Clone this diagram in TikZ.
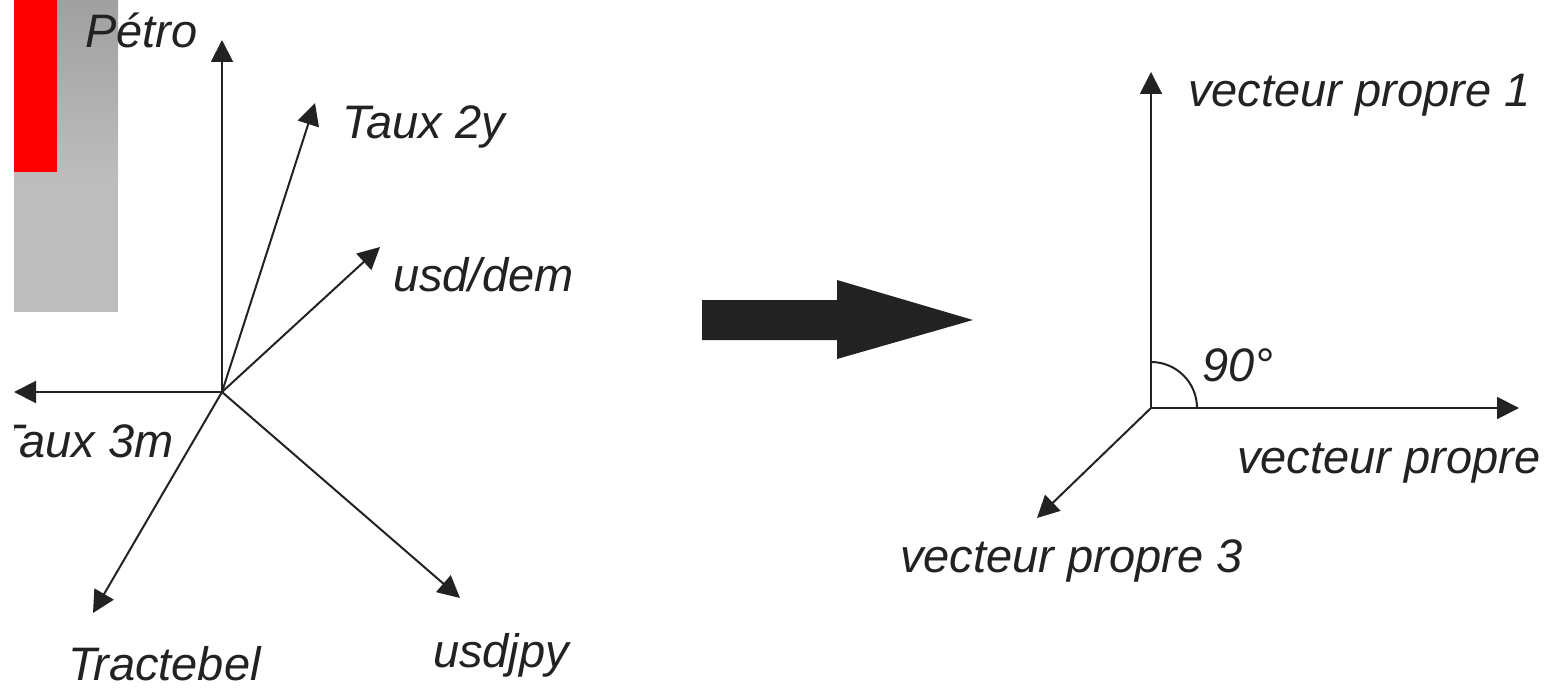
\documentclass[tikz,border=0pt]{standalone}
\usepackage{fontspec}
\setmainfont{Liberation Sans}
\usetikzlibrary{arrows.meta}
\definecolor{ink}{HTML}{222222}
\definecolor{gdark}{HTML}{A0A0A0}
\definecolor{glight}{HTML}{BDBDBD}
\tikzset{
  axis/.style={draw=ink, line width=2pt, -{Triangle[length=22pt,width=22pt]}},
  lbl/.style={inner sep=0pt, anchor=base west, text=ink, font=\fontsize{47}{56}\selectfont\itshape},
}
\begin{document}
\begin{tikzpicture}[x=1pt,y=1pt]
\useasboundingbox (0,0) rectangle (1560,-690);
\clip (0,0) rectangle (1560,-690);
% background bars
\shade[top color=gdark, bottom color=glight] (14,0) rectangle (118,-180);
\fill[glight] (14,-180) rectangle (118,-312);
\fill[red] (14,0) rectangle (57,-172);
% left system
\coordinate (o1) at (222,-392);
\coordinate (petro) at (222,-40);
\coordinate (taux2y) at (315,-103);
\coordinate (usddem) at (380,-247);
\coordinate (taux3m) at (14,-392);
\coordinate (tract) at (93,-613);
\coordinate (usdjpy) at (460,-598);
\foreach \t in {petro,taux2y,usddem,taux3m,tract,usdjpy}
  \draw[axis] (o1) -- (\t);
\node[lbl] (lpetro) at (85,-48) {Pétro};
\node[lbl] (ltaux2y) at (342,-139) {Taux 2y};
\node[lbl] (lusddem) at (393,-291) {usd/dem};
\begin{scope}
  \clip (14,-400) rectangle (300,-480);
  \node[lbl] (ltaux3m) at (-5,-457) {Taux 3m};
\end{scope}
\node[lbl] (ltract) at (68,-680) {Tractebel};
\node[lbl] (lusdjpy) at (433,-667) {usdjpy};
% big arrow
\fill[ink] (702,-300) -- (837,-300) -- (837,-280) -- (973,-320) -- (837,-359) -- (837,-340) -- (702,-340) -- cycle;
% right system
\coordinate (o2) at (1151,-408);
\coordinate (v1) at (1151,-72);
\coordinate (v2) at (1519,-408);
\coordinate (v3) at (1037,-518);
\foreach \t in {v1,v2,v3}
  \draw[axis] (o2) -- (\t);
\draw[ink, line width=2pt] ([yshift=46pt]o2) arc[start angle=90, end angle=0, radius=46pt];
\node[lbl] (lv1) at (1188,-107) {vecteur propre 1};
\node[lbl] (l90) at (1202,-381) {90°};
\node[lbl] (lv2) at (1237,-473) {vecteur propre};
\node[lbl] (lv3) at (900,-572) {vecteur propre 3};
\end{tikzpicture}
\end{document}
